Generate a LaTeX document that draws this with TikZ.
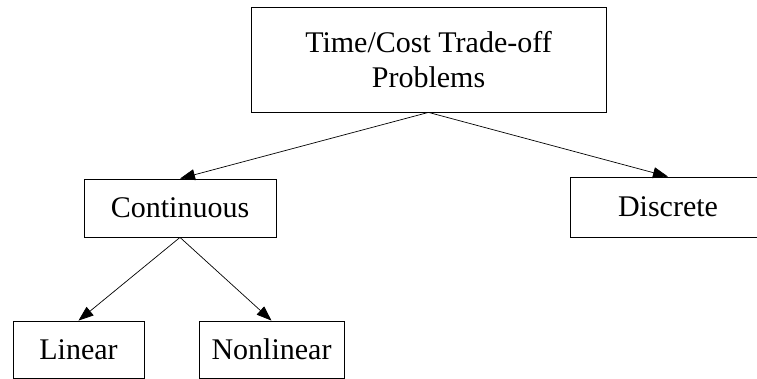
\documentclass[tikz,border=0pt]{standalone}
\usepackage{fontspec}
\setmainfont{Liberation Serif}
\usetikzlibrary{arrows.meta}

\begin{document}
\begin{tikzpicture}[x=1pt,y=-1pt,
		box/.style={draw,line width=0.8pt,inner sep=0pt,align=center,font=\fontsize{30}{35}\selectfont},
		link/.style={-{Triangle[length=15pt,width=11pt]},line width=0.7pt}]
			\clip (0,0) rectangle (757,379);
			% problem classes
			\node [box,minimum width=355pt,minimum height=105pt] (problems) at (428.5,59.5) {Time/Cost Trade-off\\Problems};
			\node [box,minimum width=192pt,minimum height=58pt] (continuous) at (180,208) {Continuous};
			\node [box,minimum width=196pt,minimum height=60pt] (discrete) at (668,207) {Discrete};
			\node [box,minimum width=131pt,minimum height=57pt] (linear) at (78.5,349.5) {Linear};
			\node [box,minimum width=145pt,minimum height=57pt] (nonlinear) at (271.5,349.5) {Nonlinear};
			% links
			\draw [link] (problems.south) -- (continuous.north);
			\draw [link] (problems.south) -- (discrete.north);
			\draw [link] (continuous.south) -- (linear.north);
			\draw [link] (continuous.south) -- (nonlinear.north);
			\end{tikzpicture}
\end{document}
